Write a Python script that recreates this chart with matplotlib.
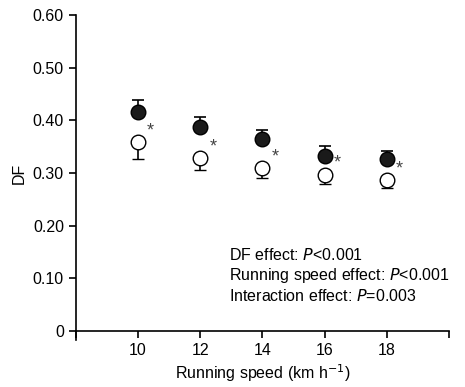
import matplotlib.pyplot as plt

plt.rcParams['font.family'] = ['Liberation Sans', 'DejaVu Sans']

speeds = [10, 12, 14, 16, 18]
# filled circles (upper series) and their upward SEM
df_filled = [0.416, 0.387, 0.364, 0.333, 0.326]
err_filled = [0.023, 0.020, 0.018, 0.019, 0.016]
# open circles (lower series) and their downward SEM
df_open = [0.358, 0.328, 0.310, 0.297, 0.287]
err_open = [0.032, 0.022, 0.020, 0.017, 0.016]

y_ticks = [0, 0.1, 0.2, 0.3, 0.4, 0.5, 0.6]
y_labels = ['0', '0.10', '0.20', '0.30', '0.40', '0.50', '0.60']
x_ticks = [8, 10, 12, 14, 16, 18, 20]
x_labels = ['', '10', '12', '14', '16', '18', '']

fs = 11.5

fig = plt.figure(figsize=(4.65, 3.87), dpi=100)
ax = fig.add_axes([0.163, 0.145, 0.803, 0.816])

zeros = [0] * len(speeds)
ax.errorbar(speeds, df_filled, yerr=[zeros, err_filled], fmt='o', color='black',
            mfc='#1a1a1a', mec='black', ms=10.5, capsize=4, elinewidth=1.2, capthick=1.2)
ax.errorbar(speeds, df_open, yerr=[err_open, zeros], fmt='o', color='black',
            mfc='white', mec='black', mew=1.0, ms=10.5, capsize=4, elinewidth=1.2, capthick=1.2)

# significance asterisks next to the open circles
for x, y in zip(speeds, df_open):
    ax.annotate('*', (x, y), xytext=(9, 8), textcoords='offset points',
                ha='center', va='center', fontsize=13, color='#444444')

ax.text(12.92, 0.145, 'DF effect: $\\it{P}$<0.001', fontsize=fs, va='center')
ax.text(12.92, 0.105, 'Running speed effect: $\\it{P}$<0.001', fontsize=fs, va='center')
ax.text(12.92, 0.067, 'Interaction effect: $\\it{P}$=0.003', fontsize=fs, va='center')

ax.set_xlim(8, 20)
ax.set_ylim(0, 0.6)
ax.set_xticks(x_ticks)
ax.set_xticklabels(x_labels)
ax.set_yticks(y_ticks)
ax.set_yticklabels(y_labels)
ax.tick_params(axis='both', direction='out', length=5, width=1.2, labelsize=fs)
ax.spines['top'].set_visible(False)
ax.spines['right'].set_visible(False)
ax.spines['left'].set_linewidth(1.2)
ax.spines['bottom'].set_linewidth(1.2)
ax.spines['left'].set_bounds(-0.017, 0.6)
ax.set_xlabel('Running speed (km h$^{-1}$)', fontsize=fs, labelpad=3)
ax.set_ylabel('DF', fontsize=fs, labelpad=4)

fig.savefig('out.png', dpi=100)
